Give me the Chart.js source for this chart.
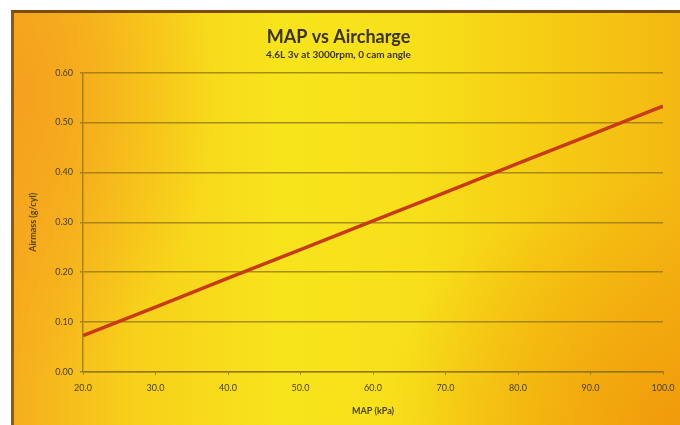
<!DOCTYPE html>
<html>
<head>
<meta charset="utf-8">
<style>
  html, body { margin: 0; padding: 0; background: #fff; }
  #frame {
    position: absolute; left: 11px; top: 10px; width: 666px; height: 412px;
    border-top: 3px solid #7a4c12; border-left: 3px solid #8a5a14;
    background:
      radial-gradient(ellipse 45% 60% at 100% 100%, rgba(240,150,10,0.85), rgba(240,150,10,0) 100%),
      radial-gradient(ellipse 30% 70% at 0% 20%, rgba(245,160,30,0.9), rgba(245,160,30,0) 100%),
      linear-gradient(to right, #f6ae1e 0%, #f7d01a 18%, #f8e41c 40%, #f7e01a 60%, #f6cc14 80%, #f4b812 100%);
  }
  canvas { display: block; }
</style>
</head>
<body>
<div id="frame"><canvas id="c" width="666" height="412"></canvas></div>
<script src="https://cdn.jsdelivr.net/npm/chart.js"></script>
<script>
  // MAP (kPa) vs airmass
  const mapKpa = [20, 30, 40, 50, 60, 70, 80, 90, 100];
  const airmass = [0.073, 0.130, 0.188, 0.245, 0.303, 0.360, 0.418, 0.475, 0.533];
  const yTicks = [0, 0.1, 0.2, 0.3, 0.4, 0.5, 0.6];

  const gridCol = 'rgba(140,115,20,0.75)';
  const txtCol = '#4a4218';
  const tickFont = { family: 'Lato', size: 9 };

  new Chart(document.getElementById('c'), {
    type: 'line',
    data: {
      datasets: [{
        data: mapKpa.map((x, i) => ({ x: x, y: airmass[i] })),
        borderColor: '#c83a18',
        borderWidth: 3.5,
        pointRadius: 0,
        tension: 0
      }]
    },
    options: {
      responsive: false,
      animation: false,
      layout: { padding: { right: 17 } },
      plugins: {
        legend: { display: false },
        tooltip: { enabled: false },
        title: {
          display: true,
          text: 'MAP vs Aircharge',
          color: '#3a3412',
          font: { family: 'Lato', size: 18, weight: 'bold', lineHeight: 1.2 },
          padding: { top: 13, bottom: 1 }
        },
        subtitle: {
          display: true,
          text: '4.6L 3v at 3000rpm, 0 cam angle',
          color: '#3a3412',
          font: { family: 'Lato', size: 10, weight: 'bold', lineHeight: 1.2 },
          padding: { top: 0, bottom: 12 }
        }
      },
      scales: {
        x: {
          type: 'linear',
          min: 20, max: 100,
          afterFit: s => { s.height = 53; s.paddingLeft = 0; s.paddingRight = 0; },
          ticks: {
            stepSize: 10,
            color: txtCol,
            font: tickFont,
            padding: 8,
            callback: v => v.toFixed(1)
          },
          grid: { display: true, drawOnChartArea: false, color: gridCol, tickLength: 3 },
          border: { color: gridCol, width: 1.5 },
          title: {
            display: true,
            text: 'MAP (kPa)',
            color: txtCol,
            font: { family: 'Lato', size: 9, weight: 'bold' },
            padding: { top: 4, bottom: 9 }
          }
        },
        y: {
          min: 0, max: 0.6,
          afterFit: s => { s.width = 69; s.paddingTop = 0; s.paddingBottom = 0; },
          afterBuildTicks: s => { s.ticks = yTicks.map(v => ({ value: v })); },
          ticks: {
            color: txtCol,
            font: tickFont,
            padding: 7,
            callback: v => v.toFixed(2)
          },
          grid: { color: gridCol, lineWidth: 1.5, tickLength: 3 },
          border: { color: gridCol, width: 1.5 },
          title: {
            display: true,
            text: 'Airmass (g/cyl)',
            color: txtCol,
            font: { family: 'Lato', size: 9, weight: 'bold' },
            padding: { top: 14, bottom: 4 }
          }
        }
      }
    }
  });
</script>
</body>
</html>
